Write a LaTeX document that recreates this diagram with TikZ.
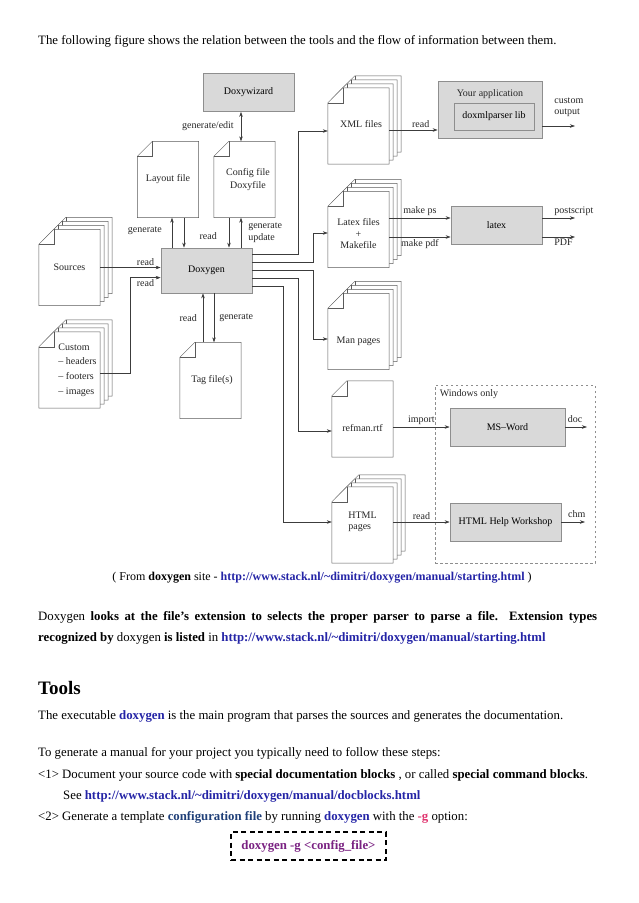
\documentclass[tikz,border=0pt]{standalone}
\usepackage{fontspec}
\setmainfont{Liberation Serif}
\usetikzlibrary{arrows.meta,backgrounds}
\definecolor{dxfill}{HTML}{D9D9D9}
\definecolor{dxedge}{HTML}{8E8E8E}
\definecolor{dxline}{HTML}{3C3C3C}
\definecolor{dxsheet}{HTML}{5A5A5A}
\definecolor{dxlink}{HTML}{2424A6}
\definecolor{dxnavy}{HTML}{1F3F78}
\definecolor{dxpink}{HTML}{E0336E}
\definecolor{dxpurple}{HTML}{7A2282}
\newcommand{\dxsmall}{\fontsize{10}{11.5}\selectfont}
\newcommand{\dxbody}{\fontsize{12.8}{15}\selectfont}
\tikzset{
  tool/.style={draw=dxedge, fill=dxfill, line width=0.7pt, align=center, font=\dxsmall, inner sep=2pt},
  page/.style={inner sep=0pt, minimum width=61pt, minimum height=76pt},
  sheet/.style={draw=dxsheet, line width=0.5pt, fill=white},
  winbox/.style={draw=dxedge, line width=0.7pt, dash pattern=on 2.5pt off 2.5pt},
  arr/.style={-{Stealth[length=5pt, width=3.5pt]}, draw=dxline, line width=0.5pt},
  arr2/.style={{Stealth[length=5pt, width=3.5pt]}-{Stealth[length=5pt, width=3.5pt]}, draw=dxline, line width=0.5pt},
  lbl/.style={font=\dxsmall, inner sep=2pt, align=left, text=black!85},
  body/.style={anchor=west, inner sep=0pt, font=\dxbody},
}
% one sheet with a folded corner, shifted up-right by #2 pt
\newcommand{\sheet}[2]{%
  \draw[sheet] ([shift={(#2pt+15pt,#2pt)}]#1.north west)
    -- ([shift={(#2pt,#2pt)}]#1.north east)
    -- ([shift={(#2pt,#2pt)}]#1.south east)
    -- ([shift={(#2pt,#2pt)}]#1.south west)
    -- ([shift={(#2pt,#2pt-15pt)}]#1.north west) -- cycle;
  \draw[sheet, fill=none] ([shift={(#2pt,#2pt-15pt)}]#1.north west)
    -- ([shift={(#2pt+15pt,#2pt-15pt)}]#1.north west)
    -- ([shift={(#2pt+15pt,#2pt)}]#1.north west);}
\newcommand{\sheetstack}[1]{\sheet{#1}{12}\sheet{#1}{8}\sheet{#1}{4}\sheet{#1}{0}}

\begin{document}
\begin{tikzpicture}[x=1pt, y=-1pt]
  \useasboundingbox (0,0) rectangle (638,903);

  \node[body] (intro) at (38,41) {The following figure shows the relation between the tools and the flow of information between them.};

  % tools
  \node[tool, minimum width=91pt, minimum height=38pt] (wizard) at (248.5,92.5) {Doxywizard};
  \node[tool, minimum width=91pt, minimum height=45pt] (doxygen) at (206.5,270.5) {Doxygen};
  \node[tool, minimum width=104pt, minimum height=57pt] (app) at (490,109.5) {};
  \node[lbl] (apptitle) at ([yshift=-13pt]app.north) {Your application};
  \node[tool, minimum width=80pt, minimum height=27pt] (lib) at (494,116.5) {doxmlparser lib};
  \node[tool, minimum width=91pt, minimum height=38pt] (latex) at (496.5,225) {latex};
  \node[winbox, minimum width=160pt, minimum height=178pt] (win) at (515,474) {};
  \node[lbl, anchor=north west] (wintitle) at ([shift={(3pt,-3pt)}]win.north west) {Windows only};
  \node[tool, minimum width=115pt, minimum height=38pt] (msword) at (507.5,427) {MS--Word};
  \node[tool, minimum width=111pt, minimum height=38pt] (hhw) at (505.5,522) {HTML Help Workshop};

  % files
  \node[page, label={[lbl]center:Layout file}] (layout) at (168,179.5) {};
  \node[page, label={[lbl, xshift=3.5pt, align=center]center:Config file\\[2pt]Doxyfile}] (config) at (244.5,179.5) {};
  \node[page, label={[lbl]center:Sources}] (sources) at (69.5,267.5) {};
  \node[page, label={[lbl, xshift=8pt, font=\fontsize{10}{14.7}\selectfont]center:Custom\\-- headers\\-- footers\\-- images}] (custom) at (69.5,370) {};
  \node[page, label={[lbl, xshift=1.5pt]center:Tag file(s)}] (tag) at (210.5,380.5) {};
  \node[page, label={[lbl, xshift=2.5pt, yshift=2pt]center:XML files}] (xml) at (358.5,126) {};
  \node[page, label={[lbl, yshift=-4.5pt, align=center]center:Latex files\\+\\Makefile}] (latexf) at (358.5,229.5) {};
  \node[page, label={[lbl, yshift=-9.5pt]center:Man pages}] (man) at (358.5,331.5) {};
  \node[page, label={[lbl, yshift=-9pt]center:refman.rtf}] (rtf) at (362.5,419) {};
  \node[page, label={[lbl, yshift=3pt]center:HTML\\pages}] (html) at (362.5,525) {};

  \begin{scope}[on background layer]
    \sheet{layout}{0}
    \sheet{config}{0}
    \sheet{tag}{0}
    \sheet{rtf}{0}
    \sheetstack{sources}
    \sheetstack{custom}
    \sheetstack{xml}
    \sheetstack{latexf}
    \sheetstack{man}
    \sheetstack{html}
  \end{scope}

  \coordinate (custout) at (575,126);
  \coordinate (psout) at (575,218);
  \coordinate (pdfout) at (575,237);
  \coordinate (docout) at (587,427);
  \coordinate (chmout) at (585,522);

  % connectors
  \draw[arr2] ([xshift=-3.5pt]config.north |- wizard.south) -- node[lbl, left=5pt]{generate/edit} ([xshift=-3.5pt]config.north);
  \draw[arr] ([xshift=4pt]layout.south |- doxygen.north) -- node[lbl, left=8pt, pos=0.55]{generate} ([xshift=4pt]layout.south);
  \draw[arr] ([xshift=16pt]layout.south) -- ([xshift=16pt]layout.south |- doxygen.north);
  \draw[arr] ([xshift=-15.5pt]config.south) -- node[lbl, left=10pt, pos=0.6]{read} ([xshift=-15.5pt]config.south |- doxygen.north);
  \draw[arr] ([xshift=-3.5pt]config.south |- doxygen.north) -- node[lbl, right=5pt]{generate\\update} ([xshift=-3.5pt]config.south);
  \draw[arr] (sources.east) -- node[lbl, above, pos=0.75]{read} (sources.east -| doxygen.west);
  \draw[arr] ([yshift=-3pt]custom.east) -- ++(30,0) |- node[lbl, below, pos=0.75]{read} ([yshift=-30pt]doxygen.north west);
  \draw[arr] ([xshift=-7.5pt]tag.north) -- node[lbl, left=4pt]{read} ([xshift=-7.5pt]tag.north |- doxygen.south);
  \draw[arr] ([xshift=3.5pt]tag.north |- doxygen.south) -- node[lbl, right=3pt]{generate} ([xshift=3.5pt]tag.north);

  \draw[arr] ([yshift=-7pt]doxygen.north east) -- ++(46,0) |- ([yshift=-5pt]xml.west);
  \draw[arr] ([yshift=-15pt]doxygen.north east) -- ++(61,0) |- ([yshift=-3.5pt]latexf.west);
  \draw[arr] ([yshift=-23pt]doxygen.north east) -- ++(61,0) |- ([yshift=-7.5pt]man.west);
  \draw[arr] ([yshift=-31pt]doxygen.north east) -- ++(46,0) |- ([yshift=-12pt]rtf.west);
  \draw[arr] ([yshift=-39pt]doxygen.north east) -- ++(31,0) |- ([yshift=3pt]html.west);

  \draw[arr] ([yshift=-4pt]xml.east) -- node[lbl, above, pos=0.65]{read} ([yshift=-4pt]xml.east -| app.west);
  \draw[arr] (custout -| app.east) -- node[lbl, above right, pos=0.3, yshift=7pt]{custom\\output} (custout);
  \draw[arr] ([yshift=11.5pt]latexf.east) -- node[lbl, above]{make ps} ([yshift=11.5pt]latexf.east -| latex.west);
  \draw[arr] ([yshift=-7.5pt]latexf.east) -- node[lbl, below]{make pdf} ([yshift=-7.5pt]latexf.east -| latex.west);
  \draw[arr] (psout -| latex.east) -- node[lbl, above right, pos=0.3]{postscript} (psout);
  \draw[arr] (pdfout -| latex.east) -- node[lbl, below right, pos=0.3]{PDF} (pdfout);
  \draw[arr] (rtf.east |- msword.west) -- node[lbl, above]{import} (msword.west);
  \draw[arr] (msword.east) -- node[lbl, above=2pt, pos=0.45]{doc} (docout);
  \draw[arr] (html.east |- hhw.west) -- node[lbl, above]{read} (hhw.west);
  \draw[arr] (hhw.east) -- node[lbl, above=2pt, pos=0.65]{chm} (chmout);

  % text below the figure
  \node[body, anchor=center, font=\fontsize{12}{14}\selectfont] (caption) at (322,578) {( From \textbf{doxygen} site - \textbf{\color{dxlink}http://www.stack.nl/\textasciitilde dimitri/doxygen/manual/starting.html} )};
  \node[body] (ext1) at (38,617) {\makebox[559pt][s]{Doxygen \textbf{looks at the file's extension to selects the proper parser to parse a file. Extension types}}};
  \node[body] (ext2) at (38,638) {\textbf{recognized by} doxygen \textbf{is listed} in \textbf{\color{dxlink}http://www.stack.nl/\textasciitilde dimitri/doxygen/manual/starting.html}};
  \node[body, font=\fontsize{19}{21}\selectfont\bfseries] (tools) at (38,688) {Tools};
  \node[body] (exec) at (38,716) {The executable \textbf{\color{dxlink}doxygen} is the main program that parses the sources and generates the documentation.};
  \node[body] (steps) at (38,753) {To generate a manual for your project you typically need to follow these steps:};
  \node[body] (step1) at (38,775) {<1> Document your source code with \textbf{special documentation blocks} , or called \textbf{special command blocks}.};
  \node[body] (see) at (63,796) {See \textbf{\color{dxlink}http://www.stack.nl/\textasciitilde dimitri/doxygen/manual/docblocks.html}};
  \node[body] (step2) at (38,817) {<2> Generate a template \textbf{\color{dxnavy}configuration file} by running \textbf{\color{dxlink}doxygen} with the \textbf{\color{dxpink}-g} option:};
  \node[draw=black, line width=1.3pt, dash pattern=on 5pt off 3.5pt, minimum width=155pt, minimum height=28pt, font=\dxbody\bfseries, text=dxpurple] (cmd) at (308.5,846) {doxygen -g <config\_file>};
\end{tikzpicture}
\end{document}
